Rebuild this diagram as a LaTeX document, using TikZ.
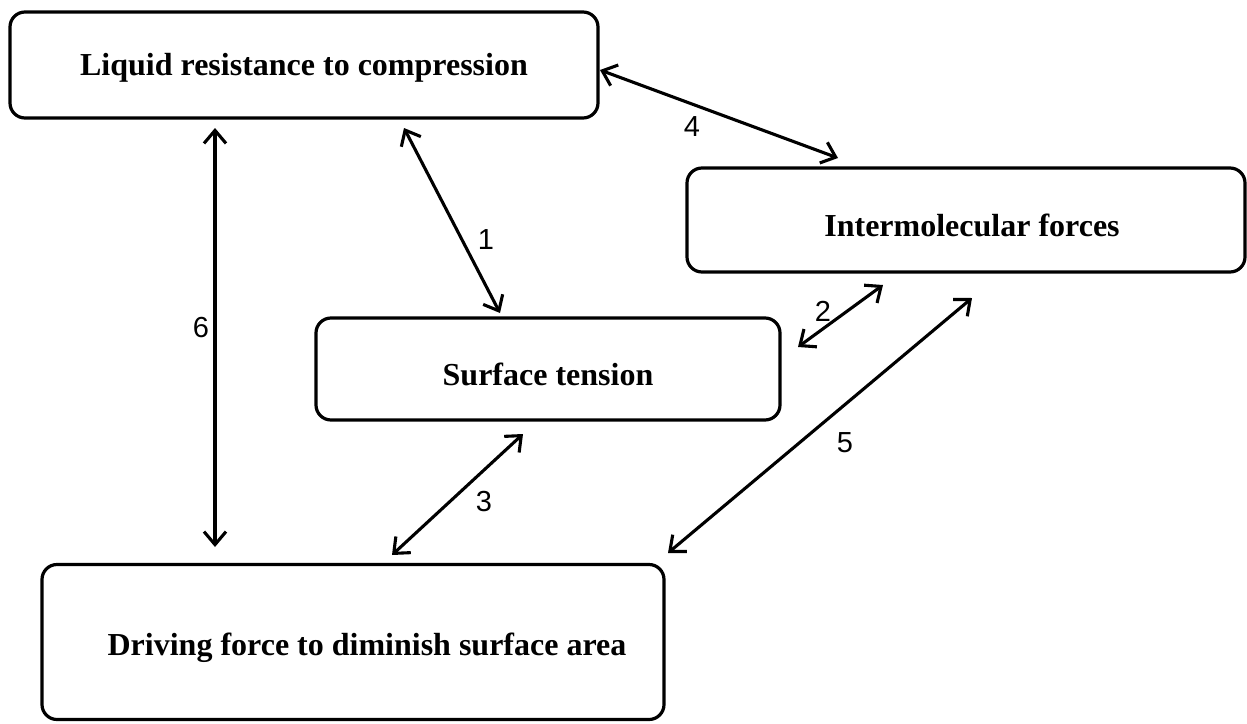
\documentclass[tikz,border=0pt]{standalone}
\usepackage{fontspec}
\setmainfont{Liberation Serif}
\newfontfamily\lblfont{Liberation Sans}
\usetikzlibrary{arrows.meta}
\begin{document}
\begin{tikzpicture}[x=1pt,y=-1pt,
  boxstyle/.style={draw, line width=3.2pt, rounded corners=15pt, inner sep=0pt},
  boxtext/.style={font=\fontsize{32}{36}\selectfont\bfseries},
  conn/.style={line width=3.1pt, {Straight Barb[length=13pt,width=22pt]}-{Straight Barb[length=13pt,width=22pt]}},
  lbl/.style={font=\lblfont\fontsize{29}{32}\selectfont}
]
\useasboundingbox (0,0) rectangle (1247,723);
% boxes
\node[boxstyle, minimum width=588pt, minimum height=106pt] (liq) at (304,65) {};
\node[boxtext] (liqt) at (304,68) {Liquid resistance to compression};
\node[boxstyle, minimum width=558pt, minimum height=104pt] (inter) at (966,220) {};
\node[boxtext] (intert) at (972,225) {Intermolecular forces};
\node[boxstyle, minimum width=464pt, minimum height=102pt] (surf) at (548,369) {};
\node[boxtext] (surft) at (548,374) {Surface tension};
\node[boxstyle, minimum width=622pt, minimum height=155pt] (drive) at (353,642) {};
\node[boxtext] (drivet) at (367,648) {Driving force to diminish surface area};
% connector endpoints
\coordinate (c1a) at (404,128); \coordinate (c1b) at (500,313);
\coordinate (c2a) at (798,347); \coordinate (c2b) at (883,285);
\coordinate (c3a) at (392,555); \coordinate (c3b) at (523,434);
\coordinate (c4a) at (600,70);  \coordinate (c4b) at (838,158);
\coordinate (c5a) at (668,553); \coordinate (c5b) at (972,298);
\coordinate (c6a) at (215,128); \coordinate (c6b) at (215,547);
\draw[conn] (c1a) -- (c1b);
\draw[conn] (c2a) -- (c2b);
\draw[conn] (c3a) -- (c3b);
\draw[conn] (c4a) -- (c4b);
\draw[conn] (c5a) -- (c5b);
\draw[conn] (c6a) -- (c6b);
% labels
\node[lbl] (l1) at (486,240) {1};
\node[lbl] (l2) at (823,311) {2};
\node[lbl] (l3) at (484,502) {3};
\node[lbl] (l4) at (692,127) {4};
\node[lbl] (l5) at (845,443) {5};
\node[lbl] (l6) at (201,328) {6};
\end{tikzpicture}
\end{document}
